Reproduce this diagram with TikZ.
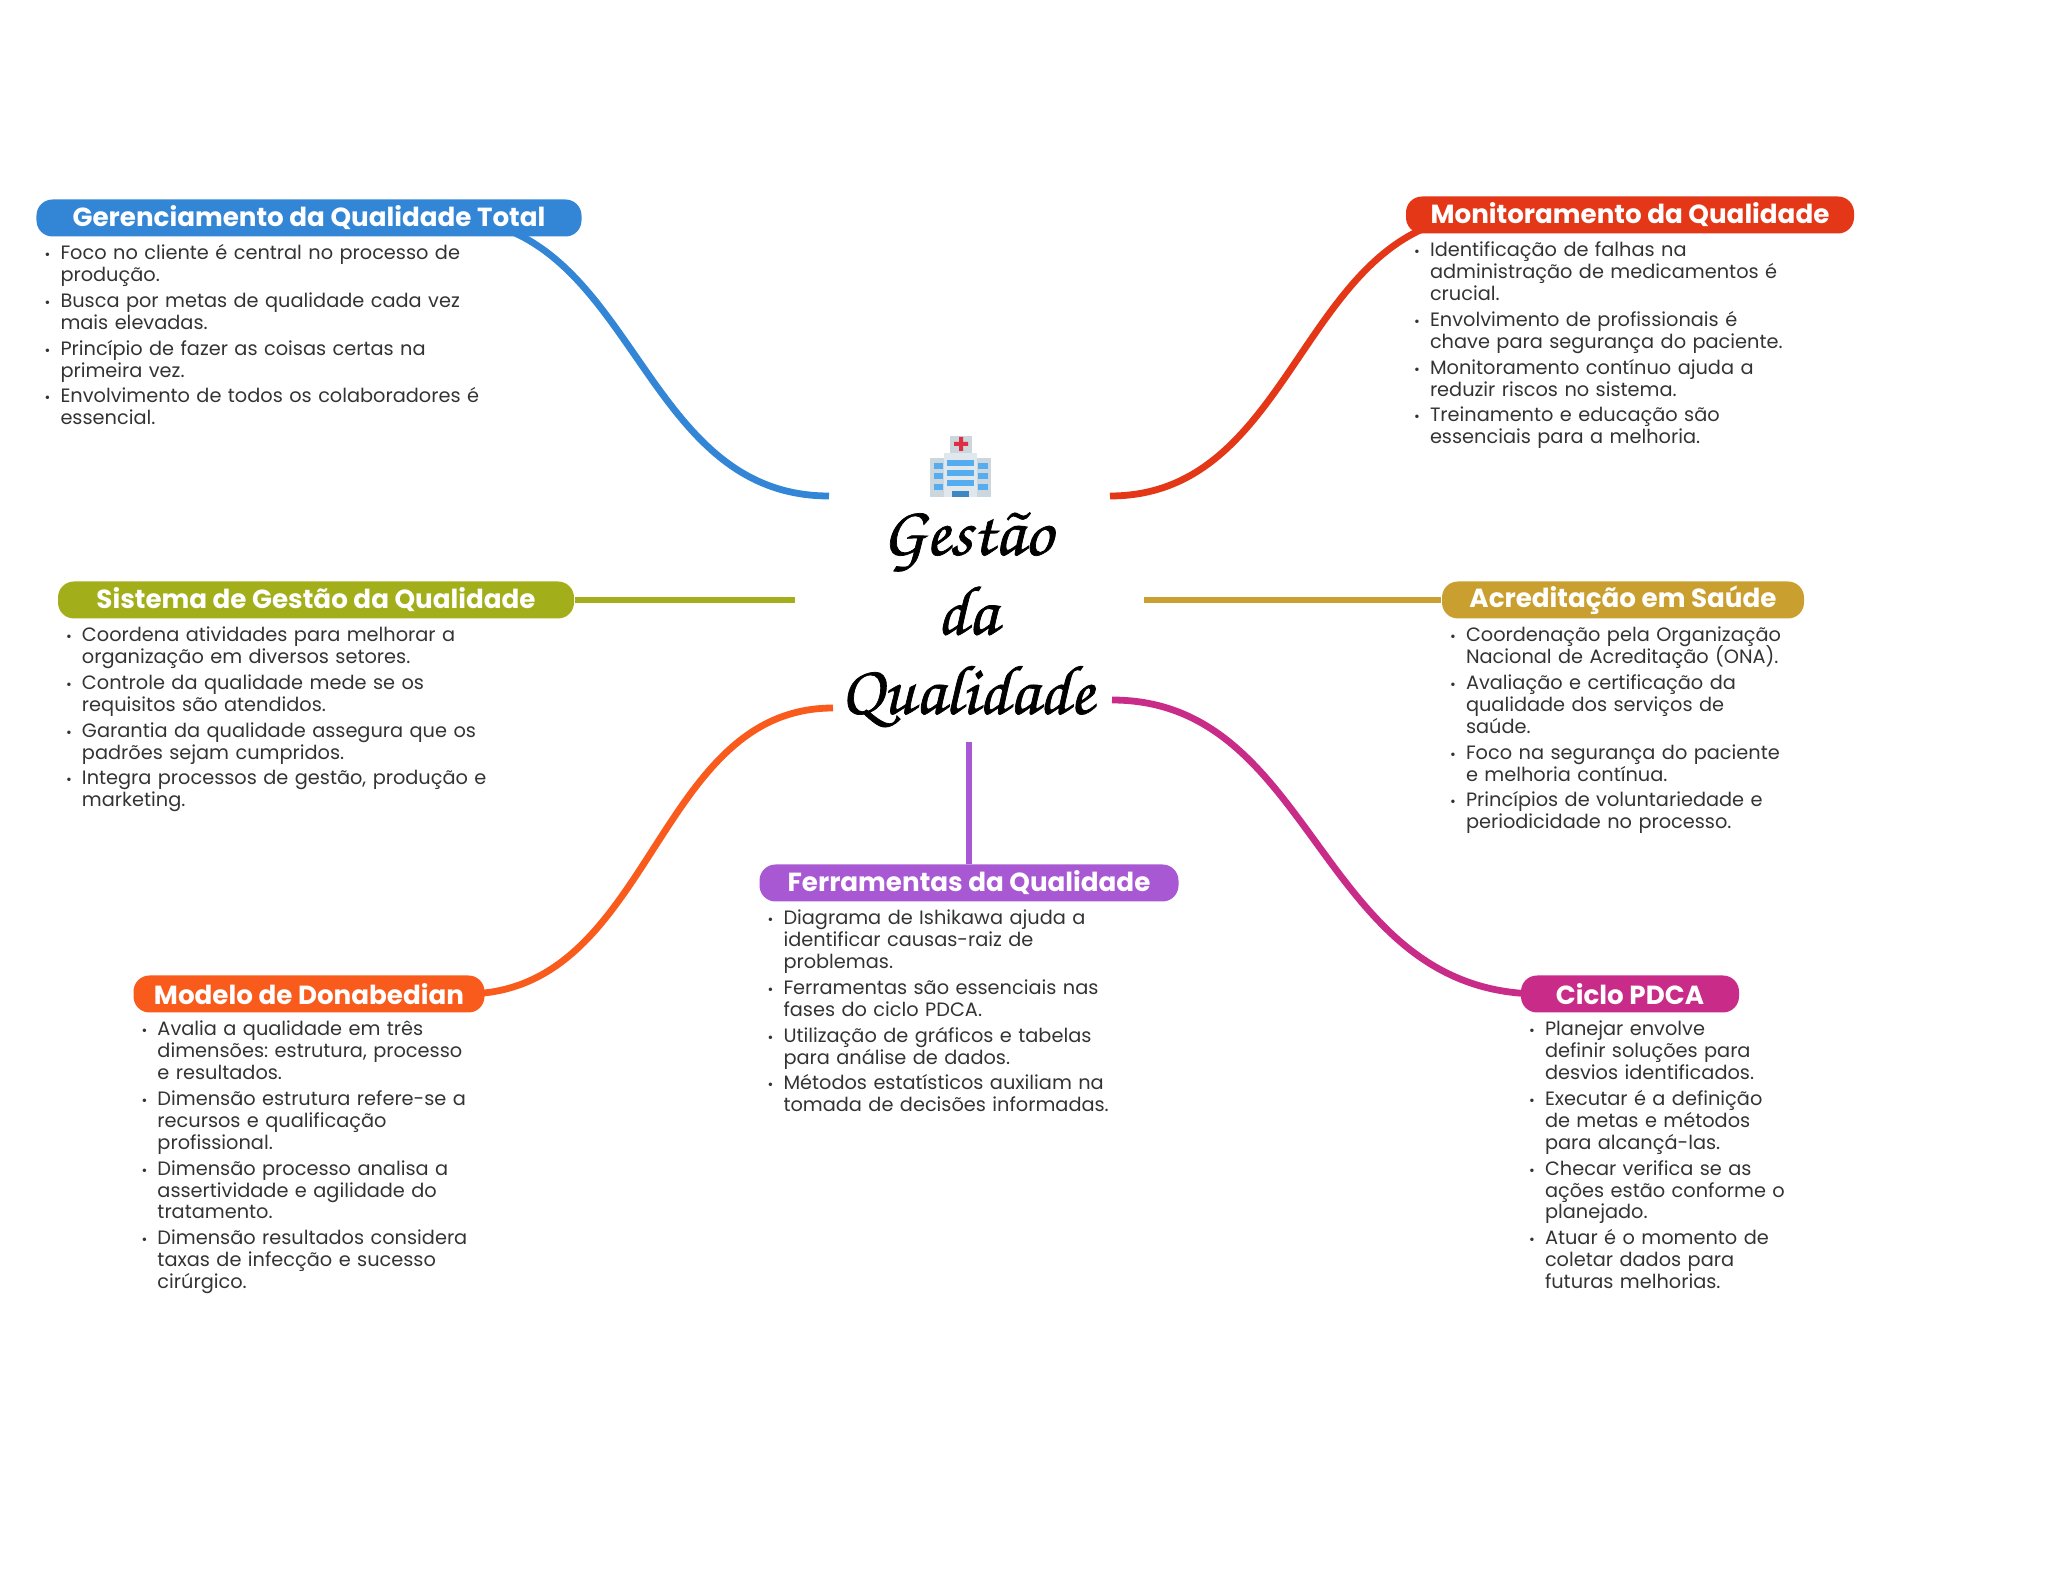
\documentclass[tikz,border=0pt]{standalone}
\usepackage[T1]{fontenc}
\usepackage{fontspec}
\setmainfont{Poppins}
\usetikzlibrary{backgrounds}
\definecolor{gqtblue}{RGB}{51, 134, 214}
\definecolor{monred}{RGB}{228, 55, 23}
\definecolor{sgqolive}{RGB}{163, 174, 27}
\definecolor{acrgold}{RGB}{201, 160, 47}
\definecolor{donorange}{RGB}{249, 91, 28}
\definecolor{ferpurple}{RGB}{169, 88, 211}
\definecolor{pdcamagenta}{RGB}{201, 43, 136}
\definecolor{bodytext}{RGB}{51, 51, 51}
\definecolor{iconwin}{RGB}{85, 172, 238}
\definecolor{icondoor}{RGB}{59, 136, 195}
\definecolor{iconwall}{RGB}{204, 214, 221}
\definecolor{iconfront}{RGB}{225, 232, 237}
\definecolor{iconcross}{RGB}{221, 46, 68}
\newenvironment{topiclist}{\frenchspacing\setlength{\lineskiplimit}{-5pt}%
	\begin{list}{{\fontsize{4pt}{4pt}\selectfont\textbullet}}{%
	\setlength{\leftmargin}{0.24cm}\setlength{\labelwidth}{0.1cm}\setlength{\labelsep}{0.1cm}%
	\setlength{\topsep}{0pt}\setlength{\partopsep}{0pt}\setlength{\parsep}{0pt}%
	\setlength{\itemsep}{1.05pt}\setlength{\itemindent}{0pt}}}{\end{list}}
\begin{document}
\begin{tikzpicture}[
	pill/.style={rounded corners=0.16cm, minimum height=0.37cm, inner sep=0pt,
		text=white, font=\fontsize{7.45pt}{9pt}\selectfont\bfseries},
	topics/.style={anchor=north west, inner sep=0pt, text width=6cm, text=bodytext,
		font=\fontsize{5.5pt}{6.25pt}\selectfont},
	branch/.style={line width=0.068cm},
	]
	\useasboundingbox (0,0) rectangle (20.48,15.69);
	% centre
	\node[align=center, font={\fontencoding{T1}\fontfamily{pzc}\fontsize{20pt}{22.6pt}\selectfont}] (title) at (9.67,9.50)
		{\special{pdf:code 2 Tr 0.2 w}Gest\~ao\\da\\Qualidade\special{pdf:code 0 Tr}};
	% hospital icon
	\fill[iconwall] (9.50,11.33) rectangle (9.72,11.16);
	\fill[iconwall] (9.30,10.72) rectangle (9.91,11.11);
	\fill[iconfront] (9.44,10.72) rectangle (9.77,11.16);
	\fill[iconcross] (9.59,11.18) rectangle (9.63,11.32) (9.54,11.23) rectangle (9.68,11.27);
	\foreach \y in {11.03,10.93,10.83} {\fill[iconwin] (9.47,\y) rectangle (9.74,\y+0.06);}
	\foreach \y in {11.0,10.90,10.79} {
		\fill[iconwin] (9.34,\y) rectangle (9.43,\y+0.06);
		\fill[iconwin] (9.78,\y) rectangle (9.88,\y+0.06);
	}
	\fill[icondoor] (9.52,10.72) rectangle (9.69,10.78);
	% topics
	\node[pill, fill=gqtblue, minimum width=5.45cm] (gqt) at (3.09,13.51) {Gerenciamento da Qualidade Total};
	\node[pill, fill=monred, minimum width=4.48cm] (mon) at (16.30,13.54) {Monitoramento da Qualidade};
	\node[pill, fill=sgqolive, minimum width=5.16cm] (sgq) at (3.16,9.69) {Sistema de Gestão da Qualidade};
	\node[pill, fill=acrgold, minimum width=3.62cm] (acr) at (16.23,9.69) {Acreditação em Saúde};
	\node[pill, fill=donorange, minimum width=3.51cm] (don) at (3.09,5.75) {Modelo de Donabedian};
	\node[pill, fill=ferpurple, minimum width=4.19cm] (fer) at (9.69,6.86) {Ferramentas da Qualidade};
	\node[pill, fill=pdcamagenta, minimum width=2.18cm] (pdca) at (16.30,5.75) {Ciclo PDCA};
	% lists
	\node[topics] (gqtlist) at (gqt.south west) {\begin{topiclist}
		\item Foco no cliente é central no processo de\newline produção.
		\item Busca por metas de qualidade cada vez\newline mais elevadas.
		\item Princípio de fazer as coisas certas na\newline primeira vez.
		\item Envolvimento de todos os colaboradores é\newline essencial.
	\end{topiclist}};
	\node[topics] (monlist) at (mon.south west) {\begin{topiclist}
		\item Identificação de falhas na\newline administração de medicamentos é\newline crucial.
		\item Envolvimento de profissionais é\newline chave para segurança do paciente.
		\item Monitoramento contínuo ajuda a\newline reduzir riscos no sistema.
		\item Treinamento e educação são\newline essenciais para a melhoria.
	\end{topiclist}};
	\node[topics] (sgqlist) at (sgq.south west) {\begin{topiclist}
		\item Coordena atividades para melhorar a\newline organização em diversos setores.
		\item Controle da qualidade mede se os\newline requisitos são atendidos.
		\item Garantia da qualidade assegura que os\newline padrões sejam cumpridos.
		\item Integra processos de gestão, produção e\newline marketing.
	\end{topiclist}};
	\node[topics] (acrlist) at (acr.south west) {\begin{topiclist}
		\item Coordenação pela Organização\newline Nacional de Acreditação (ONA).
		\item Avaliação e certificação da\newline qualidade dos serviços de\newline saúde.
		\item Foco na segurança do paciente\newline e melhoria contínua.
		\item Princípios de voluntariedade e\newline periodicidade no processo.
	\end{topiclist}};
	\node[topics] (donlist) at (don.south west) {\begin{topiclist}
		\item Avalia a qualidade em três\newline dimensões: estrutura, processo\newline e resultados.
		\item Dimensão estrutura refere-se a\newline recursos e qualificação\newline profissional.
		\item Dimensão processo analisa a\newline assertividade e agilidade do\newline tratamento.
		\item Dimensão resultados considera\newline taxas de infecção e sucesso\newline cirúrgico.
	\end{topiclist}};
	\node[topics] (ferlist) at (fer.south west) {\begin{topiclist}
		\item Diagrama de Ishikawa ajuda a\newline identificar causas-raiz de\newline problemas.
		\item Ferramentas são essenciais nas\newline fases do ciclo PDCA.
		\item Utilização de gráficos e tabelas\newline para análise de dados.
		\item Métodos estatísticos auxiliam na\newline tomada de decisões informadas.
	\end{topiclist}};
	\node[topics] (pdcalist) at (pdca.south west) {\begin{topiclist}
		\item Planejar envolve\newline definir soluções para\newline desvios identificados.
		\item Executar é a definição\newline de metas e métodos\newline para alcançá-las.
		\item Checar verifica se as\newline ações estão conforme o\newline planejado.
		\item Atuar é o momento de\newline coletar dados para\newline futuras melhorias.
	\end{topiclist}};
	% free ends
	\coordinate (gqtend) at (8.29,10.73);
	\coordinate (monend) at (11.10,10.73);
	\coordinate (sgqend) at (7.95,9.69);
	\coordinate (acrend) at (11.44,9.69);
	\coordinate (donend) at (8.33,8.61);
	\coordinate (pdcaend) at (11.12,8.69);
	\coordinate (ferend) at (9.69,8.27);
	\begin{scope}[on background layer]
		\draw[branch, gqtblue] ([xshift=-1.38cm]gqt.east) .. controls (6.36,13.51) and (6.36,10.73) .. (gqtend);
		\draw[branch, monred] ([xshift=0.85cm]mon.west) .. controls (13.0,13.54) and (13.0,10.73) .. (monend);
		\draw[branch, sgqolive] (sgq.east) -- (sgqend);
		\draw[branch, acrgold] (acr.west) -- (acrend);
		\draw[branch, donorange] ([xshift=-0.2cm]don.east) .. controls (6.53,5.75) and (6.53,8.61) .. (donend);
		\draw[branch, pdcamagenta] ([xshift=0.2cm]pdca.west) .. controls (13.17,5.75) and (13.17,8.69) .. (pdcaend);
		\draw[branch, ferpurple] (fer.north) -- (ferend);
	\end{scope}
\end{tikzpicture}
\end{document}
